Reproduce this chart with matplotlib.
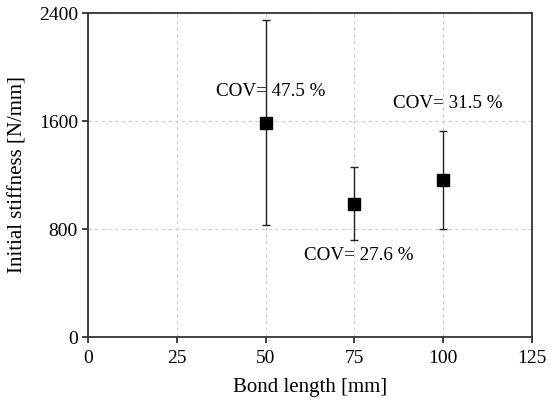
import matplotlib.pyplot as plt

plt.rcParams['font.family'] = ['Liberation Serif', 'DejaVu Serif']
plt.rcParams['font.size'] = 14

bond_length = [50, 75, 100]
stiffness = [1587, 985, 1163]
err_upper = [2348, 1261, 1528]
err_lower = [832, 718, 798]
cov_labels = ["COV= 47.5 %", "COV= 27.6 %", "COV= 31.5 %"]
label_pos = [(36, 1815), (60.8, 600), (85.9, 1726)]

yerr = [[s - lo for s, lo in zip(stiffness, err_lower)],
        [hi - s for s, hi in zip(stiffness, err_upper)]]

fig = plt.figure(figsize=(5.52, 4.08), dpi=100)
ax = fig.add_axes([88 / 552, 1 - 337 / 408, 444 / 552, 324 / 408])

ax.errorbar(bond_length, stiffness, yerr=yerr, fmt='s', color='black',
            ecolor='#222222', elinewidth=1, capsize=3, capthick=1,
            markersize=8.6, zorder=3)

for txt, (x, y) in zip(cov_labels, label_pos):
    ax.text(x, y, txt, ha='left', va='center', fontsize=13.7)

ax.set_xlim(0, 125)
ax.set_ylim(0, 2400)
ax.set_xticks([0, 25, 50, 75, 100, 125])
ax.set_yticks([0, 800, 1600, 2400])
ax.grid(True, linestyle=(0, (3, 3)), color='#cccccc', linewidth=0.8)
ax.set_axisbelow(True)

for sp in ax.spines.values():
    sp.set_color('#333333')
    sp.set_linewidth(1.3)
ax.tick_params(direction='out', length=4.3, width=1.3, color='#333333',
               labelsize=14, pad=3)
ax.tick_params(axis='x', pad=5)

ax.set_xlabel("Bond length [mm]", fontsize=15, labelpad=8)
ax.set_ylabel("Initial stiffness [N/mm]", fontsize=15, labelpad=8)

fig.savefig("out.png", dpi=100)
